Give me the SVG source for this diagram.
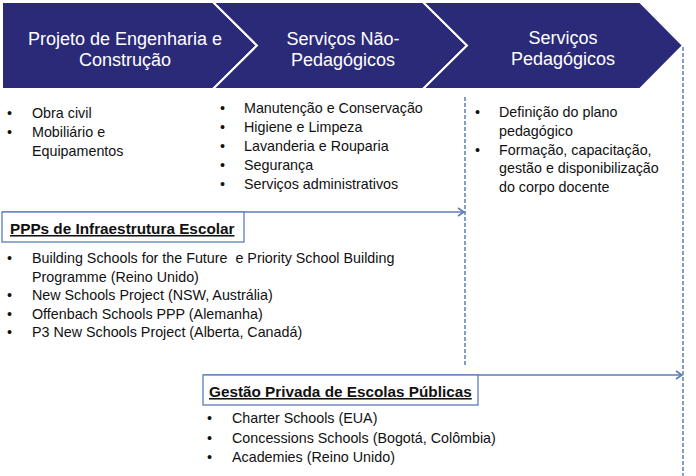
<svg xmlns="http://www.w3.org/2000/svg" width="696" height="476" viewBox="0 0 696 476">
<style>
.chev{fill:#2B2A78;stroke:#fff;stroke-width:2;stroke-linejoin:miter}
.ct{font-family:"Liberation Sans",Arial,sans-serif;font-size:18px;fill:#fff;text-anchor:middle}
.t{font-family:"Liberation Sans",Arial,sans-serif;font-size:14.3px;fill:#111}
.h{font-family:"Liberation Sans",Arial,sans-serif;font-size:15.3px;font-weight:bold;fill:#111;text-decoration:underline}
.dash{stroke:#5B7DB8;stroke-width:1.5;stroke-dasharray:4 2;fill:none}
.arr{stroke:#5B7DB8;stroke-width:1.6;fill:none}
.box{fill:#fff;stroke:#5B7DB8;stroke-width:1.3}
</style>
<defs>
<marker id="ah" markerWidth="10" markerHeight="10" refX="8" refY="5" orient="auto" markerUnits="userSpaceOnUse">
<path d="M2,1 L8,5 L2,9" fill="none" stroke="#5B7DB8" stroke-width="1.6"/>
</marker>
</defs>
<rect width="696" height="476" fill="#fff"/>
<g id="stage1">
<polygon class="chev" points="2,2 213,2 257,45.5 213,89 2,89"/>
<text class="ct" x="125" y="45">Projeto de Engenharia e</text>
<text class="ct" x="125" y="66">Construção</text>
</g>
<g id="stage2">
<polygon class="chev" points="213,2 423,2 467,45.5 423,89 213,89 257,45.5"/>
<text class="ct" x="343" y="45">Serviços Não-</text>
<text class="ct" x="343" y="66">Pedagógicos</text>
</g>
<g id="stage3">
<polygon class="chev" points="423,2 640,2 683,45.5 640,89 423,89 467,45.5"/>
<text class="ct" x="563" y="44">Serviços</text>
<text class="ct" x="563" y="65">Pedagógicos</text>
</g>
<g id="list1">
<text class="t" x="7" y="118">•</text><text class="t" x="32" y="118">Obra civil</text>
<text class="t" x="7" y="137">•</text><text class="t" x="32" y="137">Mobiliário e</text>
<text class="t" x="32" y="156">Equipamentos</text>
</g>
<g id="list2">
<text class="t" x="220" y="113">•</text><text class="t" x="244" y="113">Manutenção e Conservação</text>
<text class="t" x="220" y="132">•</text><text class="t" x="244" y="132">Higiene e Limpeza</text>
<text class="t" x="220" y="151">•</text><text class="t" x="244" y="151">Lavanderia e Rouparia</text>
<text class="t" x="220" y="170">•</text><text class="t" x="244" y="170">Segurança</text>
<text class="t" x="220" y="189">•</text><text class="t" x="244" y="189">Serviços administrativos</text>
</g>
<g id="list3">
<text class="t" x="475" y="117">•</text><text class="t" x="499" y="117">Definição do plano</text>
<text class="t" x="499" y="136">pedagógico</text>
<text class="t" x="475" y="155">•</text><text class="t" x="499" y="155">Formação, capacitação,</text>
<text class="t" x="499" y="173">gestão e disponibilização</text>
<text class="t" x="499" y="192">do corpo docente</text>
</g>
<g id="connectors">
<line class="dash" x1="465" y1="97" x2="465" y2="366"/>
<line class="dash" x1="683" y1="47" x2="683" y2="476"/>
<line class="arr" x1="2" y1="212" x2="464" y2="212" marker-end="url(#ah)"/>
<line class="arr" x1="203" y1="375" x2="682" y2="375" marker-end="url(#ah)"/>
</g>
<g id="ppp">
<rect class="box" x="2" y="212" width="242" height="30"/>
<text class="h" x="10" y="234">PPPs de Infraestrutura Escolar</text>
<text class="t" x="7" y="263">•</text><text class="t" x="32" y="263">Building Schools for the Future&#160; e Priority School Building</text>
<text class="t" x="32" y="282">Programme (Reino Unido)</text>
<text class="t" x="7" y="300">•</text><text class="t" x="32" y="300">New Schools Project (NSW, Austrália)</text>
<text class="t" x="7" y="319">•</text><text class="t" x="32" y="319">Offenbach Schools PPP (Alemanha)</text>
<text class="t" x="7" y="337">•</text><text class="t" x="32" y="337">P3 New Schools Project (Alberta, Canadá)</text>
</g>
<g id="gestao">
<rect class="box" x="203" y="375" width="275" height="30"/>
<text class="h" x="209" y="397">Gestão Privada de Escolas Públicas</text>
<text class="t" x="207" y="423">•</text><text class="t" x="232" y="423">Charter Schools (EUA)</text>
<text class="t" x="207" y="443">•</text><text class="t" x="232" y="443">Concessions Schools (Bogotá, Colômbia)</text>
<text class="t" x="207" y="462">•</text><text class="t" x="232" y="462">Academies (Reino Unido)</text>
</g>
</svg>
